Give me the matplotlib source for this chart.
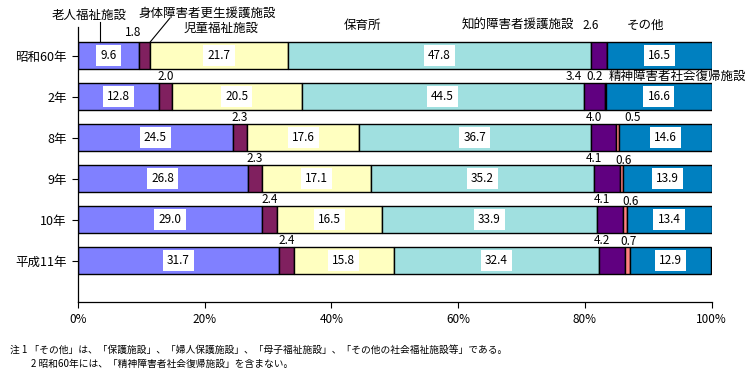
import matplotlib
matplotlib.use("Agg")
import matplotlib.pyplot as plt
import numpy as np

plt.rcParams['font.family'] = ['Noto Sans CJK JP', 'DejaVu Sans']

categories = ['昭和60年', '2年', '8年', '9年', '10年', '平成11年']
series_names = ['老人福祉施設', '身体障害者更生援護施設', '児童福祉施設', '保育所',
                '知的障害者援護施設', '精神障害者社会復帰施設', 'その他']
roujin = [9.6, 12.8, 24.5, 26.8, 29.0, 31.7]
shintai = [1.8, 2.0, 2.3, 2.3, 2.4, 2.4]
jidou = [21.7, 20.5, 17.6, 17.1, 16.5, 15.8]
hoikusho = [47.8, 44.5, 36.7, 35.2, 33.9, 32.4]
chiteki = [2.6, 3.4, 4.0, 4.1, 4.1, 4.2]
seishin = [0.0, 0.2, 0.5, 0.6, 0.6, 0.7]
sonota = [16.5, 16.6, 14.6, 13.9, 13.4, 12.9]
xtick_labels = ['0%', '20%', '40%', '60%', '80%', '100%']
notes = ['注 1 「その他」は、「保護施設」、「婦人保護施設」、「母子福祉施設」、「その他の社会福祉施設等」である。',
         '2 昭和60年には、「精神障害者社会復帰施設」を含まない。']

colors = ['#8080FF', '#80205F', '#FFFFC0', '#A0E0E0', '#600080', '#FF8080', '#0080C0']

series = [roujin, shintai, jidou, hoikusho, chiteki, seishin, sonota]
data = np.array(series, dtype=float)
totals = data.sum(axis=0)
pct = data / totals * 100.0
lefts = np.vstack([np.zeros(len(categories)), np.cumsum(pct, axis=0)[:-1]])

fig = plt.figure(figsize=(7.52, 3.92), dpi=100)
ax = fig.add_axes([78 / 752, 1 - 302 / 392, 633.5 / 752, 275 / 392])

ypos = np.arange(len(categories))
bar_h = 0.66
for k in range(len(series)):
    ax.barh(ypos, pct[k], left=lefts[k], height=bar_h, color=colors[k],
            edgecolor='black', linewidth=1.0, zorder=2)

ax.set_xlim(0, 100)
ax.set_ylim(6.01, -0.695)
ax.set_xticks(np.linspace(0, 100, 6))
ax.set_xticklabels(xtick_labels, fontsize=8.5)
ax.set_yticks(ypos)
ax.set_yticklabels(categories, fontsize=9)
ax.tick_params(axis='x', direction='out', length=4, width=0.8, pad=4)
ax.tick_params(axis='y', direction='out', length=4, width=0.8, pad=4)
for s in ['top', 'right']:
    ax.spines[s].set_visible(False)
for s in ['left', 'bottom']:
    ax.spines[s].set_linewidth(0.9)

# in-bar labels with white boxes
box = dict(facecolor='white', edgecolor='none', pad=3.0)
for k in [0, 2, 3, 6]:
    for i in range(len(categories)):
        cx = lefts[k][i] + pct[k][i] / 2
        ax.text(cx, ypos[i], f'{data[k][i]:.1f}', ha='center', va='center',
                fontsize=8.5, bbox=box, zorder=4)

# small-segment labels placed in the gaps above bars
fs = 8.5
for i in range(1, len(categories)):
    cx = lefts[1][i] + pct[1][i] / 2
    ax.text(cx, ypos[i] - 0.5, f'{shintai[i]:.1f}', ha='center', va='center', fontsize=fs)

chiteki_dx = [0.0, -1.6, 0.5, 0.0, 0.8, 0.5]
seishin_dx = [0.0, -1.9, 2.05, 0.0, 0.6, -0.15]
seishin_dy = [0.0, 0.0, 0.0, 0.05, 0.05, 0.03]
for i in range(1, len(categories)):
    ax.text(lefts[4][i] + chiteki_dx[i], ypos[i] - 0.5, f'{chiteki[i]:.1f}',
            ha='center', va='center', fontsize=fs)
    ax.text(lefts[5][i] + pct[5][i] + seishin_dx[i], ypos[i] - 0.5 + seishin_dy[i],
            f'{seishin[i]:.1f}', ha='center', va='center', fontsize=fs)

# first row special labels
ax.text(lefts[1][0] - 0.9, -0.55, f'{shintai[0]:.1f}', ha='center', va='center', fontsize=fs)
ax.text(lefts[4][0], -0.74, f'{chiteki[0]:.1f}', ha='center', va='center', fontsize=fs)

# series name labels (header)
hs = 9
ax.text(1.7, -0.99, series_names[0], ha='center', va='center', fontsize=hs)
ax.text(20.4, -1.04, series_names[1], ha='center', va='center', fontsize=hs)
ax.text(22.6, -0.67, series_names[2], ha='center', va='center', fontsize=hs)
ax.text(44.9, -0.74, series_names[3], ha='center', va='center', fontsize=hs)
ax.text(69.5, -0.74, series_names[4], ha='center', va='center', fontsize=hs)
ax.text(94.6, 0.5, series_names[5], ha='center', va='center', fontsize=hs)
ax.text(89.6, -0.74, series_names[6], ha='center', va='center', fontsize=hs)

# leader lines
ax.plot([3.5, 3.5], [-0.82, -bar_h / 2], color='black', lw=0.8, clip_on=False, zorder=3)
ax.plot([11.4, 14.5], [-bar_h / 2, -0.91], color='black', lw=0.8, clip_on=False, zorder=3)

# notes
fig.text(10 / 752, 1 - 350 / 392, notes[0], fontsize=7.0, ha='left', va='center')
fig.text(31 / 752, 1 - 364 / 392, notes[1], fontsize=7.0, ha='left', va='center')

fig.savefig('out.png', dpi=100)
